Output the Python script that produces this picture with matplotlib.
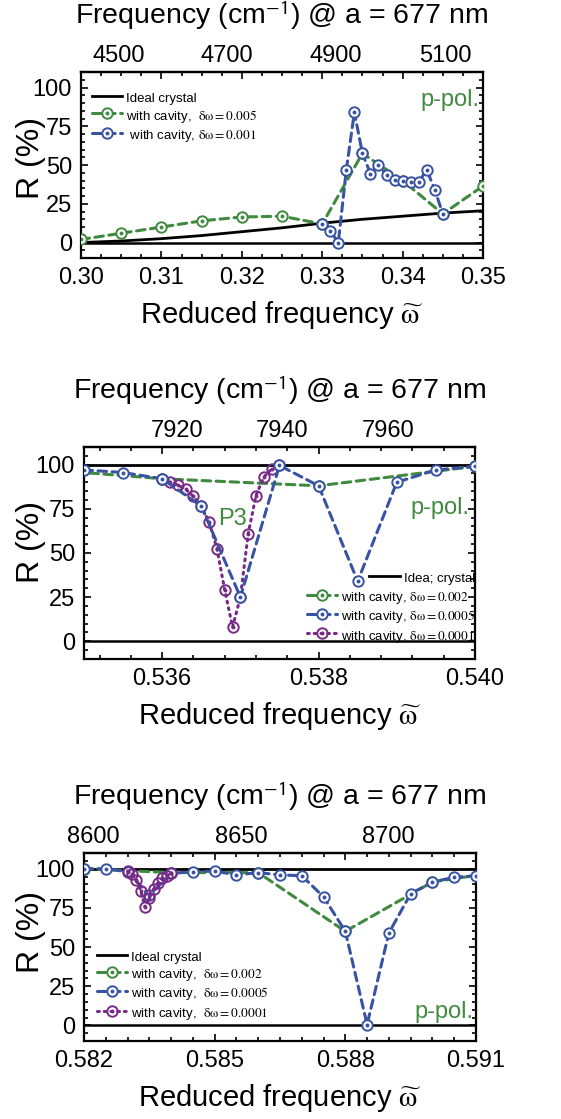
import numpy as np
import matplotlib
matplotlib.use('Agg')
import matplotlib.pyplot as plt
from matplotlib.ticker import MultipleLocator, AutoMinorLocator, FormatStrFormatter
from matplotlib.legend_handler import HandlerTuple

plt.rcParams['font.family'] = ['Liberation Sans', 'DejaVu Sans']
plt.rcParams['mathtext.fontset'] = 'stix'

GREEN = '#3f8a3f'
BLUE = '#3953a3'
PURPLE = '#772a86'

# ------------------- panel 1 (0.30 - 0.35)
w1_ideal = [0.300, 0.305, 0.310, 0.315, 0.320, 0.325, 0.330, 0.335, 0.340, 0.345, 0.350]
r1_ideal = [0.0, 1.0, 2.5, 4.5, 7.0, 9.5, 12.5, 15.0, 17.0, 19.0, 20.5]
w1_g = [0.300, 0.305, 0.310, 0.315, 0.320, 0.325, 0.330, 0.335, 0.340, 0.345, 0.350]
r1_g = [2.0, 6.0, 10.0, 14.0, 16.5, 17.0, 12.0, 57.5, 40.0, 18.5, 36.5]
w1_b = [0.330, 0.331, 0.332, 0.333, 0.334, 0.335, 0.336, 0.337, 0.338, 0.339,
        0.340, 0.341, 0.342, 0.343, 0.344, 0.345]
r1_b = [12.0, 7.5, 0.0, 47.0, 84.0, 57.5, 44.5, 50.0, 43.5, 40.5,
        39.5, 39.0, 39.0, 47.0, 34.0, 18.5]

# ------------------- panel 2 (0.535 - 0.540)
w2_ideal = [0.535, 0.540]
r2_ideal = [100.0, 100.0]
w2_g = [0.534, 0.536, 0.538, 0.540]
r2_g = [99.0, 92.0, 88.0, 99.0]
w2_b = [0.5350, 0.5355, 0.5360, 0.5365, 0.5370, 0.5375, 0.5380, 0.5385, 0.5390, 0.5395, 0.5400]
r2_b = [97.0, 95.5, 92.0, 76.5, 25.0, 99.5, 88.0, 34.0, 90.0, 97.0, 99.0]
w2_p = [0.5360, 0.5361, 0.5362, 0.5363, 0.5364, 0.5365, 0.5366, 0.5367,
        0.5368, 0.5369, 0.5370, 0.5371, 0.5372, 0.5373, 0.5374, 0.5375]
r2_p = [92.0, 90.0, 88.5, 86.0, 82.0, 76.5, 67.5, 52.5,
        29.0, 8.0, 25.0, 61.0, 82.5, 93.0, 97.5, 99.5]

# ------------------- panel 3 (0.582 - 0.591)
w3_ideal = [0.582, 0.591]
r3_ideal = [100.0, 100.0]
w3_g = [0.582, 0.584, 0.586, 0.588, 0.590, 0.592]
r3_g = [100.0, 97.5, 97.5, 60.0, 91.5, 100.0]
w3_b = [0.5820, 0.5825, 0.5830, 0.5835, 0.5840, 0.5845, 0.5850, 0.5855, 0.5860,
        0.5865, 0.5870, 0.5875, 0.5880, 0.5885, 0.5890, 0.5895, 0.5900, 0.5905, 0.5910]
r3_b = [100.0, 100.0, 98.0, 83.0, 97.0, 98.0, 98.5, 96.0, 97.5,
        96.0, 95.5, 82.0, 60.0, 0.5, 59.0, 84.0, 91.5, 94.5, 95.5]
w3_p = [0.5830, 0.5831, 0.5832, 0.5833, 0.5834, 0.5835, 0.5836,
        0.5837, 0.5838, 0.5839, 0.5840]
r3_p = [98.5, 96.5, 93.0, 86.0, 75.5, 81.0, 87.0, 91.0, 94.0, 95.5, 97.0]

title = 'Frequency (cm$^{\\mathsf{-1}}$) @ a = 677 nm'
xlab = 'Reduced frequency $\\widetilde{\\mathrm{\\omega}}$'
dw = 'with cavity,  $\\mathrm{\\delta\\omega} = %s$'


def to_cm(w):
    return w * 1e7 / 677.


def to_w(f):
    return f * 677. / 1e7


def series(ax, w, r, color, ls, fill, z):
    ln, = ax.plot(w, r, color=color, ls=ls, lw=2.2, marker='o', ms=7.5, mew=1.4,
                  mfc=fill, mec=color, zorder=z, dash_capstyle='round')
    dt, = ax.plot(w, r, ls='none', marker='o', ms=1.8, color=color, zorder=z + 0.1)
    return (ln, dt)


def setup(ax, xlim, xmaj, nmin, fmt, top_ticks, ylab_x, ylab_y):
    ax.set_xlim(xlim)
    ax.set_ylim(-10, 110)
    ax.xaxis.set_major_locator(MultipleLocator(xmaj))
    ax.xaxis.set_minor_locator(AutoMinorLocator(nmin))
    ax.xaxis.set_major_formatter(FormatStrFormatter(fmt))
    ax.yaxis.set_major_locator(MultipleLocator(25))
    ax.yaxis.set_minor_locator(AutoMinorLocator(5))
    ax.tick_params(which='both', direction='in', top=True, right=True, width=1.2,
                   labelsize=17)
    ax.tick_params(which='major', length=5, pad=6.5)
    ax.tick_params(which='minor', length=3)
    for s in ax.spines.values():
        s.set_linewidth(1.6)
    ax.axhline(0, color='black', lw=1.8, zorder=1)
    ax.set_ylabel('R (%)', fontsize=23)
    ax.yaxis.set_label_coords(ylab_x, ylab_y)
    ax.set_xlabel(xlab, fontsize=21, labelpad=7)
    sec = ax.secondary_xaxis('top', functions=(to_cm, to_w))
    sec.set_xticks(top_ticks)
    sec.tick_params(length=0, labelsize=17, pad=3.5)
    sec.spines['top'].set_linewidth(1.6)
    sec.set_xlabel(title, fontsize=20.5, labelpad=15)
    return sec


fig = plt.figure(figsize=(5.61, 11.19), dpi=100)
# equal row heights: every row is as tall as the handle box
leg_kw = dict(frameon=False, fontsize=9.5, handlelength=2.3, handleheight=1.45,
              handletextpad=0.3, labelspacing=0.15, borderpad=0.0, borderaxespad=0.0,
              handler_map={tuple: HandlerTuple(ndivide=1)})

# ---- panel 1
ax1 = fig.add_axes([0.1444, 0.7694, 0.7166, 0.1662])
setup(ax1, (0.30, 0.35), 0.01, 4, '%.2f', [4500, 4700, 4900, 5100], -0.088, 0.54)
h_i, = ax1.plot(w1_ideal, r1_ideal, color='black', lw=2.0, zorder=2)
h_g = series(ax1, w1_g, r1_g, GREEN, (0, (2.8, 1.8)), 'white', 3)
h_b = series(ax1, w1_b, r1_b, BLUE, (0, (2.8, 1.8)), 'white', 4)
ax1.legend([h_i, h_g, h_b],
           ['Ideal crystal', dw % '0.005', ' with cavity, $\\mathrm{\\delta\\omega} = 0.001$'],
           loc='upper left', bbox_to_anchor=(0.027, 0.905), **leg_kw)
ax1.text(0.99, 0.85, 'p-pol.', color=GREEN, fontsize=17, ha='right', va='center',
         transform=ax1.transAxes)

# ---- panel 2
ax2 = fig.add_axes([0.1497, 0.4111, 0.6970, 0.1895])
setup(ax2, (0.535, 0.540), 0.002, 5, '%.3f', [7920, 7940, 7960], -0.098, 0.55)
h_i, = ax2.plot(w2_ideal, r2_ideal, color='black', lw=2.0, zorder=2)
h_g = series(ax2, w2_g, r2_g, GREEN, (0, (2.8, 1.8)), 'white', 3)
h_p = series(ax2, w2_p, r2_p, PURPLE, (0, (0.6, 1.6)), 'none', 4)
h_b = series(ax2, w2_b, r2_b, BLUE, (0, (2.8, 1.8)), 'white', 5)
lg = ax2.legend([h_i], ['Idea; crystal'], loc='center right',
                bbox_to_anchor=(1.0, 0.384), **leg_kw)
ax2.add_artist(lg)
ax2.legend([h_g, h_b, h_p],
           ['with cavity, $\\mathrm{\\delta\\omega} = 0.002$',
            'with cavity, $\\mathrm{\\delta\\omega} = 0.0005$',
            'with cavity, $\\mathrm{\\delta\\omega} = 0.0001$'],
           loc='lower right', bbox_to_anchor=(1.0, 0.068), **leg_kw)
ax2.text(0.987, 0.71, 'p-pol.', color=GREEN, fontsize=17, ha='right', va='center',
         transform=ax2.transAxes)
ax2.text(0.5369, 69, 'P3', color=GREEN, fontsize=17, ha='center', va='center')

# ---- panel 3
ax3 = fig.add_axes([0.1497, 0.0697, 0.6988, 0.1680])
setup(ax3, (0.582, 0.591), 0.003, 6, '%.3f', [8600, 8650, 8700], -0.098, 0.58)
h_i, = ax3.plot(w3_ideal, r3_ideal, color='black', lw=2.0, zorder=2)
h_g = series(ax3, w3_g, r3_g, GREEN, (0, (2.8, 1.8)), 'white', 3)
h_b = series(ax3, w3_b, r3_b, BLUE, (0, (2.8, 1.8)), 'white', 4)
h_p = series(ax3, w3_p, r3_p, PURPLE, (0, (0.6, 1.6)), 'none', 5)
ax3.legend([h_i, h_g, h_b, h_p],
           ['Ideal crystal', dw % '0.002', dw % '0.0005', dw % '0.0001'],
           loc='lower left', bbox_to_anchor=(0.032, 0.103), **leg_kw)
ax3.text(0.994, 0.156, 'p-pol.', color=GREEN, fontsize=17, ha='right', va='center',
         transform=ax3.transAxes)

fig.savefig('out.png', dpi=100)
